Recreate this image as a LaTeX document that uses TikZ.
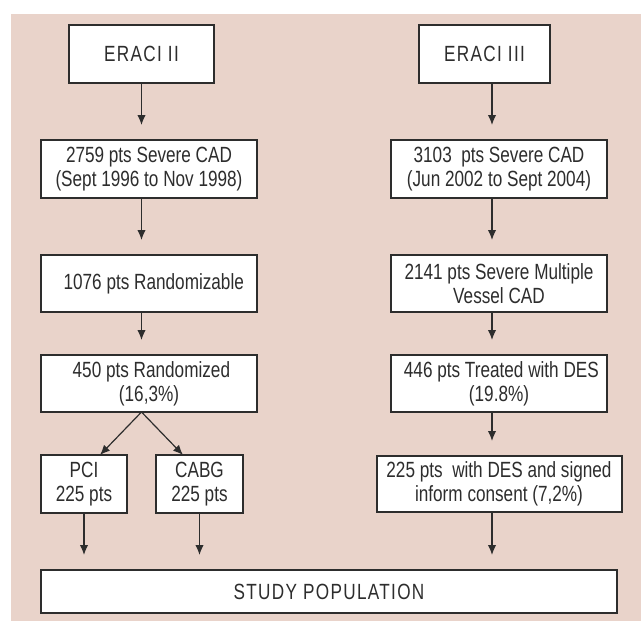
\documentclass[tikz,border=0pt]{standalone}
\usepackage{fontspec}
\setmainfont{Liberation Sans}[FakeStretch=0.78]
\usepackage{tikz}
\usetikzlibrary{shapes, positioning, arrows.meta}
\definecolor{bgpink}{RGB}{233,211,202}
\definecolor{inkgray}{RGB}{45,45,45}
\newcommand{\widetext}[1]{{\addfontfeature{LetterSpace=6}#1}}

\begin{document}
\begin{tikzpicture}[auto, x=0.5pt, y=-0.5pt, node distance=28.5pt, >={Latex[length=5pt,width=4.2pt]}]
\tikzstyle{flowbox}=[draw=inkgray, line width=1pt, outer sep=0pt, fill=white, rectangle, align=center, inner sep=1pt, text=inkgray, font=\fontsize{11}{12}\selectfont]
\tikzstyle{flowarrow}=[inkgray, line width=0.6pt]
\fill[bgpink] (11,14) rectangle (641,621);
\useasboundingbox (0,0) rectangle (641,621);

% ERACI II branch
\node[flowbox, minimum width=72.5pt, minimum height=29pt] (E2) at (141.5,54) {\widetext{ERACI II}};
\node[flowbox, minimum width=108pt, minimum height=29pt] (S2)[below=28.5pt of E2, xshift=3.75pt] {2759 pts Severe CAD\\(Sept 1996 to Nov 1998)};
\node[flowbox, minimum width=108pt, minimum height=28.5pt] (R2)[below=28.5pt of S2] {\ \ 1076 pts Randomizable};
\node[flowbox, minimum width=108pt, minimum height=28.5pt] (Z2)[below=21.5pt of R2] {\ 450 pts Randomized\\(16,3\%)};
\node[flowbox, minimum width=43pt, minimum height=29pt] (PCI)[below=21.5pt of Z2.south west, anchor=north west] {PCI\\225 pts};
\node[flowbox, minimum width=43.5pt, minimum height=29pt] (CABG)[right=14.5pt of PCI] {CABG\\225 pts};

% ERACI III branch
\node[flowbox, minimum width=65.5pt, minimum height=29pt] (E3) at (484.5,54) {\widetext{ERACI III}};
\node[flowbox, minimum width=108pt, minimum height=29pt] (S3)[below=28.5pt of E3, xshift=7.25pt] {3103 \ pts Severe CAD\\(Jun 2002 to Sept 2004)};
\node[flowbox, minimum width=108pt, minimum height=28.5pt] (V3)[below=28.5pt of S3] {2141 pts Severe Multiple\\Vessel CAD};
\node[flowbox, minimum width=108pt, minimum height=28.5pt] (T3)[below=21.5pt of V3] {\ 446 pts Treated with DES\\(19.8\%)};
\node[flowbox, minimum width=122.5pt, minimum height=28pt] (D3)[below=22pt of T3] {225 pts \ with DES and signed\\inform consent (7,2\%)};

% common end
\node[flowbox, minimum width=288pt, minimum height=21.5pt] (SP)[below=28.5pt of PCI.south west, anchor=north west] {\widetext{STUDY POPULATION}};

\coordinate (rx) at ([xshift=-3.5pt]S3.north);

\path[->, flowarrow, shorten >=7.5pt]
(E2.south) edge node{} (E2.south |- S2.north)
(S2.south -| E2) edge node{} (R2.north -| E2)
(R2.south -| E2) edge node{} (Z2.north -| E2)
(PCI.south) edge node{} (PCI.south |- SP.north)
(CABG.south) edge node{} (CABG.south |- SP.north)
(E3.south -| rx) edge node{} (S3.north -| rx)
(S3.south -| rx) edge node{} (V3.north -| rx)
(V3.south -| rx) edge node{} (T3.north -| rx)
(T3.south -| rx) edge node{} (D3.north -| rx)
(D3.south -| rx) edge node{} (SP.north -| rx);

\path[->, flowarrow]
(Z2.south -| E2) edge node{} ([xshift=8pt]PCI.north)
(Z2.south -| E2) edge node{} ([xshift=-8.25pt]CABG.north);
\end{tikzpicture}
\end{document}
